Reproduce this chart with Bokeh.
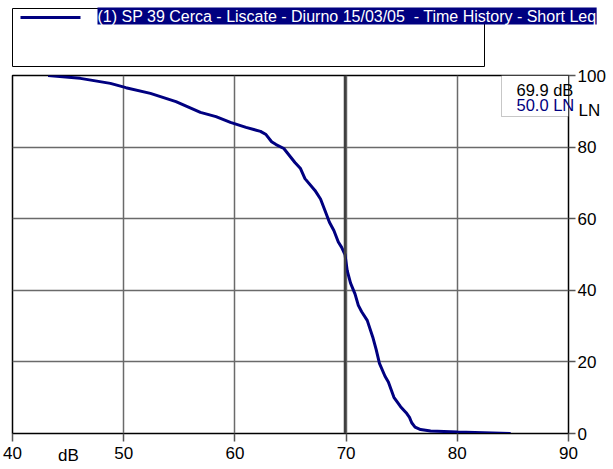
from bokeh.plotting import figure
from bokeh.models import Range1d, FixedTicker, BoxAnnotation, Span, LinearAxis
from bokeh.core.properties import value
from bokeh.embed import file_html
from bokeh.resources import INLINE

# ---- data ----
level_db = [43.2, 46.1, 48.8, 50.2, 52.4, 54.7, 56.9, 58.3, 59.6, 61.0, 62.3, 62.8,
            63.3, 63.7, 64.4, 65.4, 65.9, 66.3, 67.2, 67.7, 68.1, 68.5, 68.9, 69.3,
            69.6, 69.9, 70.1, 70.4, 70.8, 71.1, 71.4, 71.9, 72.4, 72.7, 73.0, 73.5,
            73.8, 74.3, 74.9, 75.4, 75.7, 75.9, 76.2, 76.7, 77.6, 80.0, 84.8]
ln_pct = [100, 99.2, 97.8, 96.6, 95.0, 92.7, 89.7, 88.5, 86.9, 85.5, 84.4, 83.5,
          81.5, 80.7, 79.6, 75.7, 74.0, 71.2, 67.9, 65.5, 62.3, 59.0, 56.7, 53.5,
          52.0, 50.0, 45.5, 42.0, 39.0, 35.8, 34.0, 31.6, 26.9, 23.5, 19.6, 16.0,
          14.4, 10.1, 7.5, 5.8, 4.5, 3.0, 1.8, 1.1, 0.7, 0.4, 0.0]
x_ticks = [40, 50, 60, 70, 80, 90]
y_ticks = [0, 20, 40, 60, 80, 100]
cursor_db = 69.9
cursor_ln = 50.0
series_name = "(1) SP 39 Cerca - Liscate - Diurno 15/03/05 \u00a0- Time History - Short Leq"

FONT = "Liberation Sans"
NAVY = "#000080"
FS = "17px"

# frame geometry (pixels) used to place decorations outside the plot area
FL, FR, FT, FB = 12, 568, 75, 433
X0, X1, Y0, Y1 = 40, 90, 0, 100


def fx(px):
    return X0 + (px - FL) * (X1 - X0) / (FR - FL)


def fy(py):
    return Y0 + (FB - py) * (Y1 - Y0) / (FB - FT)


p = figure(width=613, height=469, x_range=Range1d(X0, X1), y_range=Range1d(Y0, Y1),
           toolbar_location=None, output_backend="svg",
           x_axis_location=None, y_axis_location=None,
           min_border_left=FL, min_border_top=FT, min_border_right=613 - FR,
           min_border_bottom=469 - FB,
           outline_line_color="black", outline_line_width=1.5)

xa = LinearAxis(ticker=FixedTicker(ticks=x_ticks))
ya = LinearAxis(ticker=FixedTicker(ticks=y_ticks))
for ax in (xa, ya):
    ax.major_tick_in = 0
    ax.minor_tick_line_color = None
    ax.axis_line_color = "black"
    ax.major_tick_line_color = "#555555"
    ax.major_tick_line_width = 1.5
    ax.major_label_text_font = FONT
    ax.major_label_text_font_size = FS
    ax.major_label_text_color = "black"
xa.major_tick_out = 8
xa.major_label_standoff = 5
ya.major_tick_out = 7
ya.major_label_standoff = 2
p.add_layout(xa, "below")
p.add_layout(ya, "right")

p.xgrid.ticker = FixedTicker(ticks=x_ticks)
p.ygrid.ticker = FixedTicker(ticks=y_ticks)
p.grid.grid_line_color = "#6a6a6a"
p.grid.grid_line_width = 1.5

p.add_layout(Span(location=cursor_db, dimension="height", line_color="#404040", line_width=2.5))

p.line(level_db, ln_pct, line_color=NAVY, line_width=3)

# cursor read-out box
p.add_layout(BoxAnnotation(left=fx(501), right=X1, bottom=fy(116), top=Y1,
                           fill_color="white", fill_alpha=1, line_color="#444444", line_width=1))
p.text(x=[fx(516), fx(516)], y=[fy(89), fy(104)],
       text=[f"{cursor_db:.1f} dB", f"{cursor_ln:.1f} LN"],
       text_color=["black", NAVY], text_font=value(FONT), text_font_size="16.5px",
       text_baseline="middle", level="overlay")

# legend (above the plot area, drawn unclipped)
p.quad(left=[fx(12)], right=[fx(484)], top=[fy(8)], bottom=[fy(66)],
       fill_color=None, line_color="black", line_width=1, level="overlay")
p.line([fx(20), fx(80)], [fy(17), fy(17)], line_color=NAVY, line_width=3, level="overlay")
p.text(x=[fx(97)], y=[fy(15.5)], text=[series_name], text_font=value(FONT),
       text_font_size="16px", text_color="white", text_baseline="middle",
       background_fill_color=NAVY, level="overlay")

# outside-frame axis texts
p.text(x=[X1], y=[fy(110)], text=["LN"], x_offset=10, text_font=value(FONT),
       text_font_size=FS, text_color="black", text_baseline="middle", level="overlay")
p.text(x=[fx(68)], y=[Y0], text=["dB"], y_offset=22, text_font=value(FONT),
       text_font_size=FS, text_color="black", text_baseline="middle",
       text_align="center", level="overlay")

open("out.html", "w").write(file_html(p, INLINE))
